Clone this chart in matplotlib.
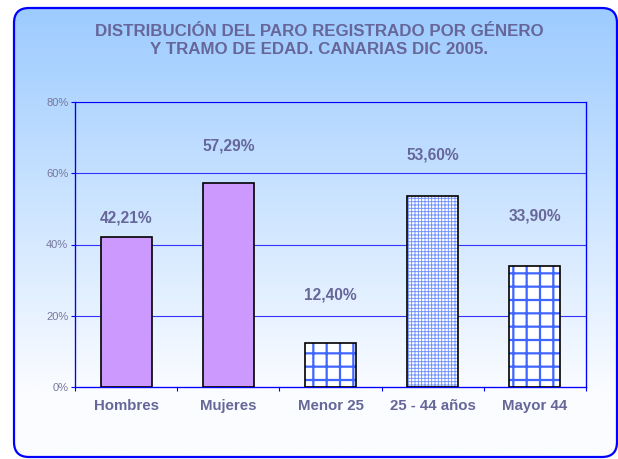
import numpy as np
import matplotlib
matplotlib.use("Agg")
import matplotlib.pyplot as plt
from matplotlib.patches import FancyBboxPatch

categories = ["Hombres", "Mujeres", "Menor 25", "25 - 44 años", "Mayor 44"]
values = [42.21, 57.29, 12.40, 53.60, 33.90]
value_labels = ["42,21%", "57,29%", "12,40%", "53,60%", "33,90%"]
yticks = [0, 20, 40, 60, 80]
ytick_labels = ["0%", "20%", "40%", "60%", "80%"]
title = "DISTRIBUCIÓN DEL PARO REGISTRADO POR GÉNERO\nY TRAMO DE EDAD. CANARIAS DIC 2005."

# label offsets above bar tops (percentage points), as drawn in the original
label_offsets = [5.2, 10.3, 13.4, 11.5, 14.1]

plt.rcParams['font.family'] = ['Liberation Sans', 'DejaVu Sans']

W, H = 618, 459
DPI = 80
fig = plt.figure(figsize=(W / DPI, H / DPI), dpi=DPI)
fig.patch.set_facecolor("white")

# background axes for gradient panel
bg = fig.add_axes([0, 0, 1, 1])
bg.set_xlim(0, W)
bg.set_ylim(H, 0)
bg.axis("off")
top = np.array([156, 203, 255]) / 255
bot = np.array([250, 252, 255]) / 255
ys = np.linspace(0, 1, 256)
t = np.clip((ys - 0.0) / 0.85, 0, 1)[:, None]
grad = top * (1 - t) + bot * t
img = np.repeat(grad[:, None, :], 2, axis=1)
x0, y0, x1, y1 = 14, 8, 617, 457
r = 15
im = bg.imshow(img, extent=[x0, x1, y1, y0], aspect="auto", interpolation="bilinear")
frame = FancyBboxPatch((x0 + r, y0 + r), (x1 - x0) - 2 * r, (y1 - y0) - 2 * r,
                       boxstyle=f"round,pad={r}", transform=bg.transData,
                       facecolor="none", edgecolor="#0000FF", lw=2)
bg.add_patch(frame)
im.set_clip_path(frame)

# title
fig.text(319 / W, 1 - 40 / H, title, ha="center", va="center", fontsize=15.2,
         fontweight="bold", color="#666699", linespacing=1.25)

ax = fig.add_axes([75 / W, (H - 387) / H, 511 / W, 285 / H])
ax.patch.set_alpha(0)
ax.set_xlim(-0.5, len(categories) - 0.5)
ax.set_ylim(0, 80)
x = np.arange(len(categories))

for yv in yticks[1:]:
    ax.axhline(yv, color="#3333FF", lw=1, zorder=1)

face = ["#CC99FF", "#CC99FF", "white", "white", "white"]
hatches = [None, None, "+", "++++", "+"]
hatch_colors = [None, None, "#3F66FF", "#6F8FFF", "#3F66FF"]
hatch_lw = [1, 1, 2.0, 0.8, 2.0]
for i in range(len(categories)):
    if hatches[i]:
        with plt.rc_context({"hatch.linewidth": hatch_lw[i]}):
            bars = ax.bar(x[i], values[i], width=0.5, color=face[i],
                          edgecolor=hatch_colors[i], hatch=hatches[i], lw=0, zorder=2)
        for b in bars:
            if hasattr(b, "set_hatch_linewidth"):
                b.set_hatch_linewidth(hatch_lw[i])
        ax.bar(x[i], values[i], width=0.5, fill=False, edgecolor="black",
               lw=1.5, zorder=3)
    else:
        ax.bar(x[i], values[i], width=0.5, color=face[i], edgecolor="black",
               lw=1.5, zorder=3)
    ax.text(x[i], values[i] + label_offsets[i], value_labels[i], ha="center",
            va="center", fontsize=14, fontweight="bold", color="#666699")

for s in ax.spines.values():
    s.set_color("#0000FF")
    s.set_linewidth(1.2)
ax.spines["top"].set_linewidth(1)

ax.set_yticks(yticks)
ax.set_yticklabels(ytick_labels, fontsize=10, color="#777799")
ax.set_xticks(np.arange(-0.5, len(categories)), minor=False)
ax.set_xticklabels([])
ax.tick_params(axis="y", colors="#0000FF", labelcolor="#777799", length=4, width=1, pad=2)
ax.tick_params(axis="x", colors="#0000FF", length=4, width=1)
for i, c in enumerate(categories):
    ax.text(x[i], -5.3, c, ha="center", va="center", fontsize=13.5,
            fontweight="bold", color="#666699")

fig.savefig("out.png", dpi=DPI)
